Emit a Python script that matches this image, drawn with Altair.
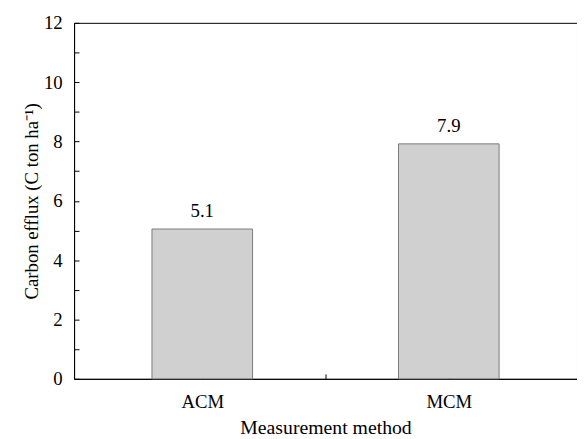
import altair as alt
import pandas as pd

methods = ["ACM", "MCM"]
positions = [1, 2]
values = [5.05, 7.92]
labels = ["5.1", "7.9"]

df = pd.DataFrame({"method": methods, "pos": positions, "value": values, "label": labels})

FONT = "Liberation Serif"
W, H = 510, 361

xscale = alt.Scale(domain=[0.5, 2.5], nice=False, zero=False)
yscale = alt.Scale(domain=[0, 12], nice=False)

bars = alt.Chart(df).mark_bar(size=102, fill="#d0d0d0", stroke="#7a7a7a", strokeWidth=1).encode(
    x=alt.X("pos:Q", scale=xscale, title="Measurement method",
            axis=alt.Axis(orient="bottom", values=[1, 2], tickSize=0, grid=False,
                          labelExpr="datum.value == 1 ? 'ACM' : 'MCM'",
                          labelPadding=14, titlePadding=6, titleFontSize=20)),
    y=alt.Y("value:Q", scale=yscale, title="Carbon efflux (C ton ha⁻¹)",
            axis=alt.Axis(orient="left", values=list(range(0, 13, 2)), tickSize=0, grid=False,
                          labelPadding=12, titlePadding=2)),
)

text = alt.Chart(df).mark_text(baseline="bottom", dy=-8).encode(
    x=alt.X("pos:Q", scale=xscale, axis=None),
    y=alt.Y("value:Q", scale=yscale, axis=None),
    text="label:N",
)

ticks = alt.Chart(df).mark_point(opacity=0).encode(
    x=alt.X("pos:Q", scale=xscale, title=None,
            axis=alt.Axis(orient="top", offset=-H, values=[1, 1.5, 2], labels=False, domain=False,
                          tickSize=5, tickColor="black", tickWidth=1, grid=False)),
    y=alt.Y("value:Q", scale=yscale, title=None,
            axis=alt.Axis(orient="right", offset=-W, values=list(range(0, 13)), labels=False, domain=False,
                          tickSize=5, tickColor="black", tickWidth=1, grid=False)),
)

chart = alt.layer(bars, text, ticks).resolve_axis(x="independent", y="independent").properties(
    width=W, height=H,
    autosize=alt.AutoSizeParams(type="none"),
    padding={"left": 67, "top": 12, "right": 0, "bottom": 60},
).configure(font=FONT).configure_view(stroke="black", strokeWidth=1).configure_axis(
    labelFont=FONT, labelFontSize=19, labelColor="black",
    titleFont=FONT, titleFontSize=19, titleFontWeight="normal", titleColor="black",
    domainColor="black", domainWidth=1,
).configure_text(font=FONT, fontSize=19, color="black")

chart.save("out.html", embed_options={"renderer": "svg", "actions": False})
